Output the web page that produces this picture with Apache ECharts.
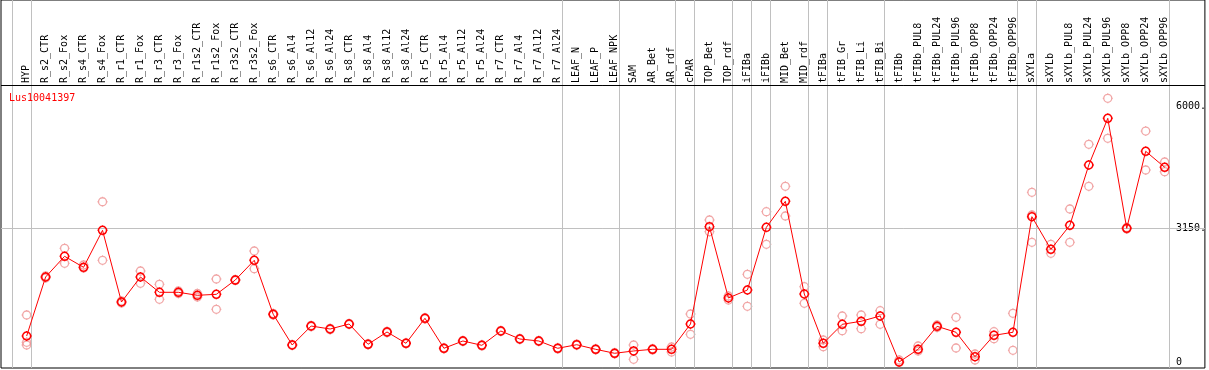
<!DOCTYPE html>
<html><head><meta charset="utf-8">
<script src="https://cdn.jsdelivr.net/npm/echarts@6/dist/echarts.min.js"></script>
<style>html,body{margin:0;padding:0;background:#fff}#c{width:1209px;height:370px}</style>
</head><body><div id="c"></div>
<script>
const categories = ["HYP","R_s2_CTR","R_s2_Fox","R_s4_CTR","R_s4_Fox","R_r1_CTR","R_r1_Fox","R_r3_CTR","R_r3_Fox","R_r1s2_CTR","R_r1s2_Fox","R_r3s2_CTR","R_r3s2_Fox","R_s6_CTR","R_s6_Al4","R_s6_Al12","R_s6_Al24","R_s8_CTR","R_s8_Al4","R_s8_Al12","R_s8_Al24","R_r5_CTR","R_r5_Al4","R_r5_Al12","R_r5_Al24","R_r7_CTR","R_r7_Al4","R_r7_Al12","R_r7_Al24","LEAF_N","LEAF_P","LEAF_NPK","SAM","AR_Bet","AR_rdf","cPAR","TOP_Bet","TOP_rdf","iFIBa","iFIBb","MID_Bet","MID_rdf","tFIBa","tFIB_Gr","tFIB_Li","tFIB_Bi","tFIBb","tFIBb_PUL8","tFIBb_PUL24","tFIBb_PUL96","tFIBb_OPP8","tFIBb_OPP24","tFIBb_OPP96","sXYLa","sXYLb","sXYLb_PUL8","sXYLb_PUL24","sXYLb_PUL96","sXYLb_OPP8","sXYLb_OPP24","sXYLb_OPP96"];
const meanVals = [621,2004,2489,2231,3098,1418,2004,1645,1645,1575,1598,1933,2395,1130,410,855,785,902,427,715,450,1036,333,504,403,738,551,504,333,417,309,216,270,309,309,902,3183,1512,1699,3168,3778,1605,450,895,966,1090,12,309,848,708,136,637,708,3417,2653,3215,4629,5723,3145,4950,4575];
const rep1 = [1113,2027,2676,2285,3768,1441,2144,1833,1676,1617,1957,1945,2613,1148,422,870,800,915,440,730,462,1050,345,515,415,750,563,516,345,430,321,228,410,322,363,1137,3340,1558,2067,3534,4129,1776,527,1090,1113,1214,59,387,879,1059,199,722,1153,3989,2770,3597,5114,6192,3164,5425,4699];
const rep2 = [473,1980,2325,2215,2395,1394,1856,1481,1617,1535,1247,1922,2198,1113,398,840,770,890,415,700,440,1022,322,492,390,725,540,492,320,405,297,205,75,296,246,661,3065,1465,1317,2770,3433,1387,370,745,792,895,0,270,820,340,59,558,286,2817,2559,2817,4129,5254,3129,4512,4472];
const rep3 = [410,null,null,null,null,null,null,null,null,null,null,null,null,null,null,null,null,null,null,null,null,null,null,null,null,null,null,null,null,null,null,null,null,null,null,null,null,null,null,null,null,null,null,null,null,null,null,null,null,null,null,null,null,3457,null,null,null,null,null,null,null];
const groupEnds = [-1,0,28,31,34,35,37,38,39,41,42,45,52,53,60];
const yTicks = [0,3150,6000];
const title = "Lus10041397";

const MONO = "DejaVu Sans Mono";
const Y_MIN = -129, Y_MAX = 8496, HEADER_Y = 6504;
const xMin = (1 - 26.7) / 19, xMax = (1207 - 26.7) / 19;
const toPts = a => a.map((v, i) => [i, v]).filter(p => p[1] !== null);
const GEAR = 'path://M0,-5L0,-4M0,4L0,5M-5,0L-4,0M4,0L5,0M4,0A4,4 0 1 1 -4,0A4,4 0 1 1 4,0Z';
const repStyle = {type:'scatter', symbol:GEAR, symbolSize:10, z:2,
  itemStyle:{color:'rgba(0,0,0,0)', borderColor:'#ee9090', borderWidth:1.3}, silent:true};

const chart = echarts.init(document.getElementById('c'), null, {renderer:'canvas'});
chart.setOption({
  animation:false,
  title:{text:title, left:9, top:93, padding:0,
    textStyle:{color:'#ff0000', fontSize:10, fontWeight:'normal', fontFamily:MONO}},
  grid:{left:1, right:2, top:0, bottom:2, show:true, borderColor:'#000', borderWidth:1, backgroundColor:'#fff'},
  xAxis:{type:'value', min:xMin, max:xMax, position:'bottom', offset:-283,
    axisLine:{show:false, onZero:false}, axisTick:{show:false}, splitLine:{show:false},
    axisLabel:{inside:true, rotate:90, margin:2, customValues:categories.map((c,i)=>i),
      formatter:v=>categories[Math.round(v)]||'', color:'#000', fontSize:10, fontFamily:MONO}},
  yAxis:{type:'value', min:Y_MIN, max:Y_MAX, position:'right',
    axisLine:{show:false}, axisTick:{show:false}, splitLine:{show:false},
    axisLabel:{inside:true, align:'left', margin:29, customValues:yTicks,
      formatter:v=>v===0?'0':v+'.', color:'#000', fontSize:10, fontFamily:MONO}},
  series:[
    {type:'line', data:[], silent:true, z:1,
     markLine:{silent:true, symbol:['none','none'], label:{show:false},
       lineStyle:{color:'#c0c0c0', width:1, type:'solid'},
       data:[...groupEnds.map(g=>({xAxis:g+0.22})), {yAxis:3150},
             {yAxis:HEADER_Y, lineStyle:{color:'#000', width:1, type:'solid'}}]}},
    Object.assign({data:toPts(rep1)}, repStyle),
    Object.assign({data:toPts(rep2)}, repStyle),
    Object.assign({data:toPts(rep3)}, repStyle),
    {type:'line', data:toPts(meanVals), z:5, symbol:GEAR, symbolSize:10, showSymbol:true,
     lineStyle:{color:'#ff0000', width:1},
     itemStyle:{color:'rgba(0,0,0,0)', borderColor:'#ff0000', borderWidth:1.5}}
  ]
});
</script></body></html>
